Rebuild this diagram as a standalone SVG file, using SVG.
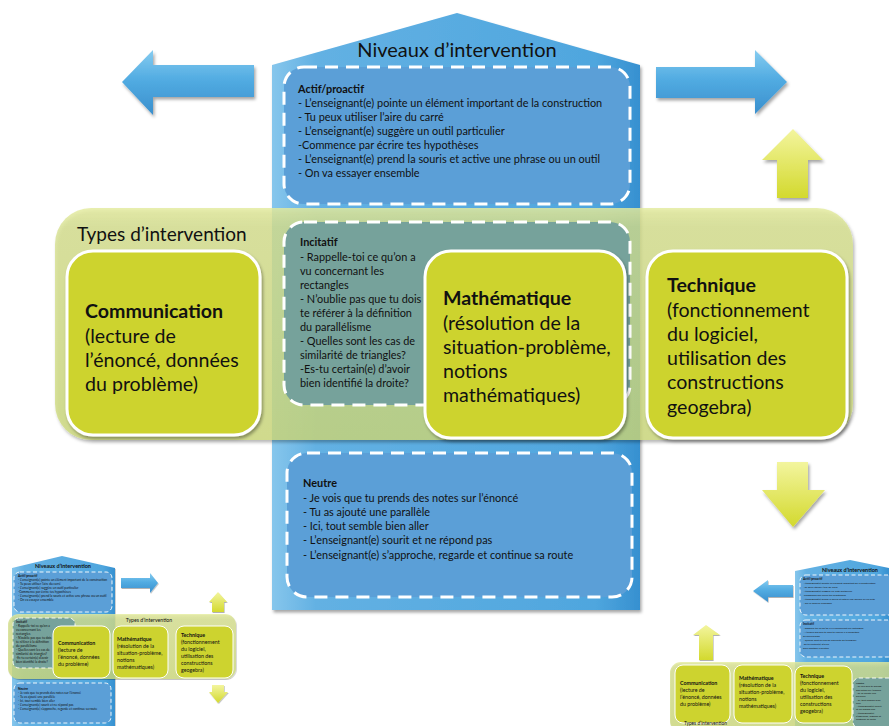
<svg xmlns="http://www.w3.org/2000/svg" width="889" height="726" viewBox="0 0 889 726">
<defs>
<linearGradient id="gBlue" x1="0" y1="0" x2="1" y2="0">
<stop offset="0" stop-color="#86c6ec"/><stop offset="0.12" stop-color="#63b1e3"/><stop offset="0.88" stop-color="#4fa6de"/><stop offset="1" stop-color="#3690d0"/>
</linearGradient>
<linearGradient id="gArrB" x1="0" y1="0" x2="0" y2="1">
<stop offset="0" stop-color="#86ccf0"/><stop offset="0.45" stop-color="#52ace2"/><stop offset="1" stop-color="#3a8fcd"/>
</linearGradient>
<linearGradient id="gArrY" x1="0" y1="0" x2="0" y2="1">
<stop offset="0" stop-color="#f3f59e"/><stop offset="1" stop-color="#d3d92e"/>
</linearGradient>
<linearGradient id="gBand" x1="0" y1="0" x2="0" y2="1">
<stop offset="0" stop-color="#e4ec9e" stop-opacity="0.82"/><stop offset="0.08" stop-color="#d6e08e" stop-opacity="0.78"/><stop offset="1" stop-color="#cdda7c" stop-opacity="0.78"/>
</linearGradient>
<filter id="sh" x="-10%" y="-10%" width="120%" height="120%">
<feDropShadow dx="1.5" dy="2.5" stdDeviation="1.8" flood-color="#000" flood-opacity="0.35"/>
</filter>
<filter id="shs" x="-10%" y="-10%" width="120%" height="120%">
<feDropShadow dx="0.6" dy="1" stdDeviation="0.7" flood-color="#000" flood-opacity="0.3"/>
</filter>
</defs>
<style>
text{font-family:Lato,"Liberation Sans",sans-serif;fill:#111;}
.b{font-weight:bold;}
.dash{fill:#5b9fd7;stroke:#fff;stroke-width:3;stroke-dasharray:13 8;}
.dashT{fill:#76a29b;stroke:#fff;stroke-width:3;stroke-dasharray:13 8;}
.box{fill:#cdd32f;stroke:#fff;stroke-width:3;}
.sm{font-size:10.9px;}
.inc{font-size:10.9px;}
.big{font-size:19.6px;}
.tdash{fill:#5b9fd7;stroke:#fff;stroke-width:0.9;stroke-dasharray:4 2.5;}
.tdashT{fill:#76a29b;stroke:#fff;stroke-width:0.9;stroke-dasharray:4 2.5;}
.tbox{fill:#cdd32f;stroke:#fff;stroke-width:1;}
.t5{font-size:5.3px;}
.t3{font-size:3.2px;}
.t2{font-size:2.6px;}
</style>

<!-- MAIN DIAGRAM -->
<g id="niveaux">
<polygon points="272,65 457,13 640,65 640,610 272,610" fill="url(#gBlue)" filter="url(#sh)"/>
<text x="457" y="57" font-size="20" text-anchor="middle">Niveaux d’intervention</text>
</g>

<g id="actif">
<rect class="dash" x="284" y="67" width="346" height="137" rx="20"/>
<text class="sm b" x="298" y="93">Actif/proactif</text>
<text class="sm" x="298" y="107">- L’enseignant(e) pointe un élément important de la construction</text>
<text class="sm" x="298" y="121">- Tu peux utiliser l’aire du carré</text>
<text class="sm" x="298" y="135">- L’enseignant(e) suggère un outil particulier</text>
<text class="sm" x="298" y="149">-Commence par écrire tes hypothèses</text>
<text class="sm" x="298" y="163">- L’enseignant(e) prend la souris et active une phrase ou un outil</text>
<text class="sm" x="298" y="177">- On va essayer ensemble</text>
</g>

<g id="neutre">
<rect class="dash" x="287" y="453" width="345" height="144" rx="20"/>
<text class="sm b" x="303" y="487">Neutre</text>
<text class="sm" x="303" y="502">- Je vois que tu prends des notes sur l’énoncé</text>
<text class="sm" x="303" y="516">- Tu as ajouté une parallèle</text>
<text class="sm" x="303" y="530">- Ici, tout semble bien aller</text>
<text class="sm" x="303" y="544">- L’enseignant(e) sourit et ne répond pas</text>
<text class="sm" x="303" y="559">- L’enseignant(e) s’approche, regarde et continue sa route</text>
</g>

<g id="types">
<rect x="55" y="208" width="798" height="232" rx="36" fill="url(#gBand)" filter="url(#sh)"/>
<text x="77" y="241" font-size="19">Types d’intervention</text>
</g>

<g id="incitatif">
<rect class="dashT" x="284" y="222" width="346" height="183" rx="20"/>
<text class="inc b" x="300" y="246">Incitatif</text>
<text class="inc" x="300" y="261">- Rappelle-toi ce qu’on a</text>
<text class="inc" x="300" y="275">vu concernant les</text>
<text class="inc" x="300" y="289">rectangles</text>
<text class="inc" x="300" y="303">- N’oublie pas que tu dois</text>
<text class="inc" x="300" y="317">te référer à la définition</text>
<text class="inc" x="300" y="331">du parallélisme</text>
<text class="inc" x="300" y="345">- Quelles sont les cas de</text>
<text class="inc" x="300" y="359">similarité de triangles?</text>
<text class="inc" x="300" y="373">-Es-tu certain(e) d’avoir</text>
<text class="inc" x="300" y="387">bien identifié la droite?</text>
</g>

<g id="communication">
<rect class="box" x="67" y="251" width="193" height="184" rx="26" filter="url(#sh)"/>
<text class="big b" x="85" y="318">Communication</text>
<text class="big" x="85" y="343">(lecture de</text>
<text class="big" x="85" y="367">l’énoncé, données</text>
<text class="big" x="85" y="391">du problème)</text>
</g>

<g id="mathematique">
<rect class="box" x="425" y="251" width="200" height="187" rx="26" filter="url(#sh)"/>
<text class="big b" x="443" y="305">Mathématique</text>
<text class="big" x="443" y="330">(résolution de la</text>
<text class="big" x="443" y="354">situation-problème,</text>
<text class="big" x="443" y="378">notions</text>
<text class="big" x="443" y="402">mathématiques)</text>
</g>

<g id="technique">
<rect class="box" x="647" y="251" width="200" height="187" rx="26" filter="url(#sh)"/>
<text class="big b" x="667" y="292">Technique</text>
<text class="big" x="667" y="317">(fonctionnement</text>
<text class="big" x="667" y="341">du logiciel,</text>
<text class="big" x="667" y="365">utilisation des</text>
<text class="big" x="667" y="389">constructions</text>
<text class="big" x="667" y="414">geogebra)</text>
</g>

<g id="connectors">
<polygon points="122,82 153,50 153,65 254,65 254,97 153,97 153,115" fill="url(#gArrB)" filter="url(#sh)"/>
<polygon points="787,82 755,50 755,67 656,67 656,98 755,98 755,114" fill="url(#gArrB)" filter="url(#sh)"/>
<polygon points="793,129 823,160 808,160 808,198 777,198 777,160 762,160" fill="url(#gArrY)" filter="url(#sh)"/>
<polygon points="793,527 825,490 808,490 808,462 777,462 777,490 762,490" fill="url(#gArrY)" filter="url(#sh)"/>
</g>

<!-- LEFT THUMBNAIL -->
<g id="thumb-left">
<polygon points="12,568 62,556 115,568 115,726 12,726" fill="url(#gBlue)" filter="url(#shs)"/>
<text x="63" y="568" font-size="5.5" text-anchor="middle" class="b">Niveaux d’intervention</text>
<rect class="tdash" x="14" y="572" width="98" height="40" rx="6"/>
<text class="t3 b" x="18" y="577">Actif/proactif</text>
<text class="t3" x="18" y="581">- L’enseignant(e) pointe un élément important de la construction</text>
<text class="t3" x="18" y="585">- Tu peux utiliser l’aire du carré</text>
<text class="t3" x="18" y="589">- L’enseignant(e) suggère un outil particulier</text>
<text class="t3" x="18" y="593">-Commence par écrire tes hypothèses</text>
<text class="t3" x="18" y="597">- L’enseignant(e) prend la souris et active une phrase ou un outil</text>
<text class="t3" x="18" y="601">- On va essayer ensemble</text>
<rect class="tdash" x="14" y="683" width="97" height="40" rx="6"/>
<text class="t3 b" x="18" y="690">Neutre</text>
<text class="t3" x="18" y="694">- Je vois que tu prends des notes sur l’énoncé</text>
<text class="t3" x="18" y="698">- Tu as ajouté une parallèle</text>
<text class="t3" x="18" y="702">- Ici, tout semble bien aller</text>
<text class="t3" x="18" y="706">- L’enseignant(e) sourit et ne répond pas</text>
<text class="t3" x="18" y="710">- L’enseignant(e) s’approche, regarde et continue sa route</text>
<rect x="8" y="614" width="228" height="65" rx="11" fill="url(#gBand)" filter="url(#shs)"/>
<text x="149" y="622" font-size="5.2" text-anchor="middle">Types d’intervention</text>
<rect class="tdashT" x="13" y="618" width="62" height="50" rx="6"/>
<text class="t3 b" x="16" y="623">Incitatif</text>
<text class="t3" x="16" y="627">- Rappelle-toi ce qu’on a</text>
<text class="t3" x="16" y="631">vu concernant les</text>
<text class="t3" x="16" y="635">rectangles</text>
<text class="t3" x="16" y="639">- N’oublie pas que tu dois</text>
<text class="t3" x="16" y="643">te référer à la définition</text>
<text class="t3" x="16" y="647">du parallélisme</text>
<text class="t3" x="16" y="651">- Quelles sont les cas de</text>
<text class="t3" x="16" y="655">similarité de triangles?</text>
<text class="t3" x="16" y="659">-Es-tu certain(e) d’avoir</text>
<text class="t3" x="16" y="663">bien identifié la droite?</text>
<rect class="tbox" x="53" y="626" width="57" height="52" rx="8"/>
<text class="t5 b" x="58" y="645">Communication</text>
<text class="t5" x="58" y="652">(lecture de</text>
<text class="t5" x="58" y="659">l’énoncé, données</text>
<text class="t5" x="58" y="666">du problème)</text>
<rect class="tbox" x="113" y="626" width="55" height="52" rx="8"/>
<text class="t5 b" x="117" y="641">Mathématique</text>
<text class="t5" x="117" y="648">(résolution de la</text>
<text class="t5" x="117" y="655">situation-problème,</text>
<text class="t5" x="117" y="662">notions</text>
<text class="t5" x="117" y="669">mathématiques)</text>
<rect class="tbox" x="176" y="626" width="57" height="52" rx="8"/>
<text class="t5 b" x="181" y="637">Technique</text>
<text class="t5" x="181" y="644">(fonctionnement</text>
<text class="t5" x="181" y="651">du logiciel,</text>
<text class="t5" x="181" y="658">utilisation des</text>
<text class="t5" x="181" y="665">constructions</text>
<text class="t5" x="181" y="672">geogebra)</text>
<polygon points="158,583 150,573 150,578 121,578 121,588 150,588 150,593" fill="url(#gArrB)" filter="url(#shs)"/>
<polygon points="218,592 227,602 224,602 224,612 212,612 212,602 209,602" fill="url(#gArrY)" filter="url(#shs)"/>
<polygon points="218,703 228,692 224,692 224,685 212,685 212,692 209,692" fill="url(#gArrY)" filter="url(#shs)"/>
</g>

<!-- RIGHT THUMBNAIL -->
<g id="thumb-right">
<polygon points="795,571 850,560 889,568 889,726 795,726" fill="url(#gBlue)" filter="url(#shs)"/>
<text x="850" y="572" font-size="5.5" text-anchor="middle" class="b">Niveaux d’intervention</text>
<rect class="tdash" x="800" y="575" width="100" height="40" rx="6"/>
<text class="t3 b" x="803" y="580">Actif/proactif</text>
<text class="t2" x="803" y="584">- L’enseignant(e) pointe un élément important de la construction</text>
<text class="t2" x="803" y="588">- Tu peux utiliser l’aire du carré</text>
<text class="t2" x="803" y="592">- L’enseignant(e) suggère un outil particulier</text>
<text class="t2" x="803" y="596">-Commence par écrire tes hypothèses</text>
<text class="t2" x="803" y="600">- L’enseignant(e) prend la souris et active une phrase ou un outil</text>
<text class="t2" x="803" y="604">- On va essayer ensemble</text>
<rect class="tdash" x="800" y="620" width="100" height="37" rx="6"/>
<text class="t3 b" x="803" y="625">Incitatif</text>
<text class="t2" x="803" y="629">- Rappelle-toi ce qu’on a vu concernant les rectangles</text>
<text class="t2" x="803" y="633">- N’oublie pas que tu dois te référer à la définition</text>
<text class="t2" x="803" y="637">du parallélisme</text>
<text class="t2" x="803" y="641">- Quelles sont les cas de  similarité de triangles?</text>
<text class="t2" x="803" y="645">-Es-tu certain(e) d’avoir</text>
<text class="t2" x="803" y="649">bien identifié la droite?</text>
<rect x="670" y="662" width="230" height="70" rx="11" fill="url(#gBand)" filter="url(#shs)"/>
<rect class="tdashT" x="853" y="678" width="50" height="50" rx="6"/>
<text class="t2 b" x="856" y="684">Neutre</text>
<text class="t2" x="856" y="687.3">- Je vois que tu prends</text>
<text class="t2" x="856" y="690.6">des notes sur l’énoncé</text>
<text class="t2" x="856" y="693.9">- Tu as ajouté une</text>
<text class="t2" x="856" y="697.2">parallèle</text>
<text class="t2" x="856" y="700.5">- Ici, tout semble bien</text>
<text class="t2" x="856" y="703.8">aller</text>
<text class="t2" x="856" y="707.1">- L’enseignant(e) sourit</text>
<text class="t2" x="856" y="710.4">et ne répond pas</text>
<text class="t2" x="856" y="713.7">- L’enseignant(e)</text>
<text class="t2" x="856" y="717">s’approche, regarde et</text>
<text class="t2" x="856" y="720.3">continue sa route</text>
<rect class="tbox" x="675" y="665" width="55" height="58" rx="8"/>
<text class="t5 b" x="680" y="685">Communication</text>
<text class="t5" x="680" y="692">(lecture de</text>
<text class="t5" x="680" y="699">l’énoncé, données</text>
<text class="t5" x="680" y="706">du problème)</text>
<rect class="tbox" x="734" y="665" width="58" height="58" rx="8"/>
<text class="t5 b" x="739" y="680">Mathématique</text>
<text class="t5" x="739" y="687">(résolution de la</text>
<text class="t5" x="739" y="694">situation-problème,</text>
<text class="t5" x="739" y="701">notions</text>
<text class="t5" x="739" y="708">mathématiques)</text>
<rect class="tbox" x="795" y="666" width="57" height="57" rx="8"/>
<text class="t5 b" x="800" y="678">Technique</text>
<text class="t5" x="800" y="685">(fonctionnement</text>
<text class="t5" x="800" y="692">du logiciel,</text>
<text class="t5" x="800" y="699">utilisation des</text>
<text class="t5" x="800" y="706">constructions</text>
<text class="t5" x="800" y="713">geogebra)</text>
<text x="684" y="725" font-size="4.8">Types d’intervention</text>
<polygon points="753,591 768,580 768,585 793,585 793,597 768,597 768,602" fill="url(#gArrB)" filter="url(#shs)"/>
<polygon points="706,625 720,635 713,635 713,660 699,660 699,635 693,635" fill="url(#gArrY)" filter="url(#shs)"/>
</g>
</svg>
